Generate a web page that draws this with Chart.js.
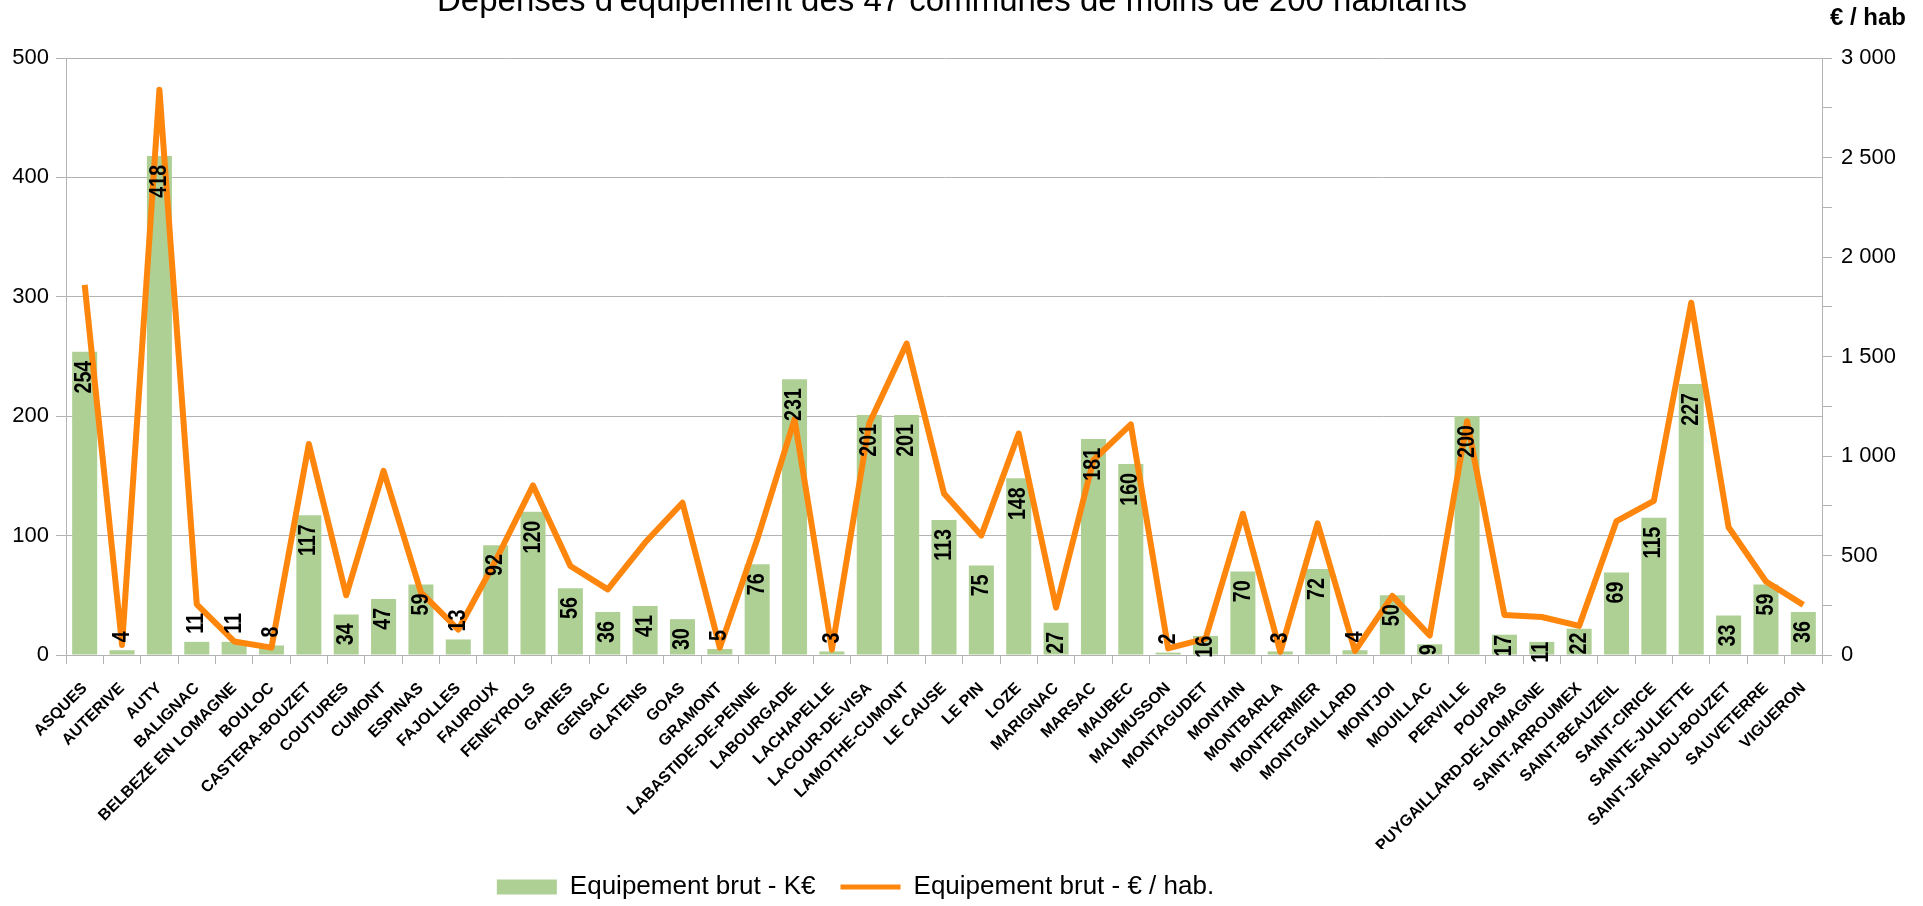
<!DOCTYPE html>
<html lang="fr">
<head>
<meta charset="utf-8">
<title>Dépenses d'équipement</title>
<script src="https://cdn.jsdelivr.net/npm/chart.js@4/dist/chart.umd.min.js"></script>
<style>
  html, body { margin: 0; padding: 0; background: #fff; }
  canvas { display: block; }
</style>
</head>
<body>
<canvas id="equipChart" width="1923" height="906"></canvas>
<script>
const communes = [
  "ASQUES", "AUTERIVE", "AUTY", "BALIGNAC", "BELBEZE EN LOMAGNE", "BOULOC",
  "CASTERA-BOUZET", "COUTURES", "CUMONT", "ESPINAS", "FAJOLLES", "FAUROUX",
  "FENEYROLS", "GARIES", "GENSAC", "GLATENS", "GOAS", "GRAMONT",
  "LABASTIDE-DE-PENNE", "LABOURGADE", "LACHAPELLE", "LACOUR-DE-VISA",
  "LAMOTHE-CUMONT", "LE CAUSE", "LE PIN", "LOZE", "MARIGNAC", "MARSAC",
  "MAUBEC", "MAUMUSSON", "MONTAGUDET", "MONTAIN", "MONTBARLA", "MONTFERMIER",
  "MONTGAILLARD", "MONTJOI", "MOUILLAC", "PERVILLE", "POUPAS",
  "PUYGAILLARD-DE-LOMAGNE", "SAINT-ARROUMEX", "SAINT-BEAUZEIL", "SAINT-CIRICE",
  "SAINTE-JULIETTE", "SAINT-JEAN-DU-BOUZET", "SAUVETERRE", "VIGUERON"
];

// Equipement brut en K€ (barres, axe gauche)
const equipementK = [
  254, 4, 418, 11, 11, 8, 117, 34, 47, 59, 13, 92, 120, 56, 36, 41, 30, 5,
  76, 231, 3, 201, 201, 113, 75, 148, 27, 181, 160, 2, 16, 70, 3, 72, 4, 50,
  9, 200, 17, 11, 22, 69, 115, 227, 33, 59, 36
];

// Equipement brut en € par habitant (courbe, axe droit)
const equipementHab = [
  1860, 50, 2840, 255, 68, 37, 1060, 300, 925, 315, 128, 475, 852, 447, 330,
  565, 765, 37, 580, 1185, 27, 1165, 1565, 812, 601, 1113, 238, 980, 1159, 33,
  82, 710, 16, 662, 20, 297, 98, 1175, 201, 191, 146, 673, 775, 1770, 642, 369,
  252
];

const leftAxis = { min: 0, max: 500, step: 100 };
const rightAxis = { min: 0, max: 3000, step: 250, labelEvery: 500 };

// petites valeurs dont l'étiquette est posée au-dessus de la barre
const labelsAbove = [
  "AUTERIVE", "BALIGNAC", "BELBEZE EN LOMAGNE", "BOULOC", "FAJOLLES",
  "GRAMONT", "LACHAPELLE", "MAUMUSSON", "MONTBARLA", "MONTGAILLARD"
];

const GREEN = "#afd095";
const ORANGE = "#ff860d";
const GRID = "#b3b3b3";
const NARROW = 0.82;

Chart.defaults.font.family = "'Liberation Sans', Arial, sans-serif";
Chart.defaults.color = "#000";

function thousands(v) {
  return String(v).replace(/\B(?=(\d{3})+(?!\d))/g, " ");
}

// valeurs K€ écrites verticalement sur les barres
const barValueLabels = {
  id: "barValueLabels",
  afterDatasetsDraw(chart) {
    const ctx = chart.ctx;
    const meta = chart.getDatasetMeta(0);
    ctx.save();
    ctx.font = "bold 24px 'Liberation Sans', Arial, sans-serif";
    ctx.fillStyle = "#000";
    ctx.textBaseline = "middle";
    meta.data.forEach((bar, i) => {
      const text = String(equipementK[i]);
      const len = ctx.measureText(text).width * NARROW;
      const h = bar.base - bar.y;
      ctx.save();
      if (labelsAbove.includes(communes[i])) {
        ctx.translate(bar.x, bar.y - 8);
        ctx.textAlign = "left";
      } else {
        ctx.translate(bar.x, bar.y + Math.min(9, Math.max(0, h - len)));
        ctx.textAlign = "right";
      }
      ctx.rotate(-Math.PI / 2);
      ctx.scale(NARROW, 1);
      ctx.fillText(text, 0, 0);
      ctx.restore();
    });
    ctx.restore();
  }
};

const headerText = {
  id: "headerText",
  afterLayout(chart) {
    // légende décalée vers la gauche
    chart.legend.left -= 106;
    chart.legend.right -= 106;
  },
  afterDraw(chart) {
    const ctx = chart.ctx;
    ctx.save();
    ctx.fillStyle = "#000";
    ctx.textBaseline = "alphabetic";
    ctx.textAlign = "center";
    ctx.font = "33px 'Liberation Sans', Arial, sans-serif";
    ctx.fillText("Dépenses d'équipement des 47 communes de moins de 200 habitants", 952, 11);
    ctx.textAlign = "left";
    ctx.font = "bold 24px 'Liberation Sans', Arial, sans-serif";
    ctx.fillText("€ / hab", 1830, 25);
    ctx.restore();
  }
};

const ctx = document.getElementById("equipChart").getContext("2d");

new Chart(ctx, {
  data: {
    labels: communes,
    datasets: [
      {
        type: "bar",
        label: "Equipement brut - K€",
        data: equipementK,
        backgroundColor: GREEN,
        borderWidth: 0,
        barPercentage: 0.67,
        categoryPercentage: 1,
        yAxisID: "y",
        pointStyle: "rect",
        order: 1
      },
      {
        type: "line",
        label: "Equipement brut - € / hab.",
        data: equipementHab,
        borderColor: ORANGE,
        backgroundColor: ORANGE,
        borderWidth: 6,
        borderJoinStyle: "round",
        pointRadius: 0,
        pointHoverRadius: 0,
        pointStyle: "line",
        tension: 0,
        yAxisID: "y1",
        order: 0
      }
    ]
  },
  options: {
    responsive: false,
    animation: false,
    events: [],
    layout: { padding: { top: 58, left: 0, right: 0, bottom: -4 } },
    plugins: {
      title: { display: false },
      tooltip: { enabled: false },
      legend: {
        position: "bottom",
        labels: {
          usePointStyle: true,
          pointStyleWidth: 60,
          boxHeight: 15,
          padding: 25,
          color: "#000",
          font: { size: 26 },
          sort: (a, b) => a.datasetIndex - b.datasetIndex,
          generateLabels(chart) {
            return Chart.defaults.plugins.legend.labels.generateLabels(chart).map(item => {
              if (item.pointStyle === "line") {
                item.lineWidth = 5;
                item.strokeStyle = ORANGE;
              }
              return item;
            });
          }
        }
      }
    },
    scales: {
      x: {
        offset: true,
        grid: { offset: true, drawOnChartArea: false, tickLength: 9, color: GRID },
        border: { color: GRID },
        ticks: {
          autoSkip: false,
          minRotation: 45,
          maxRotation: 45,
          padding: 15,
          color: "#000",
          font: { size: 16, weight: "bold" }
        },
        afterFit(scale) { scale.height = 194; }
      },
      y: {
        position: "left",
        min: leftAxis.min,
        max: leftAxis.max,
        ticks: { stepSize: leftAxis.step, padding: 7, color: "#000", font: { size: 22 } },
        grid: { color: GRID, tickLength: 10 },
        border: { color: GRID },
        afterFit(scale) { scale.width = 66; }
      },
      y1: {
        position: "right",
        min: rightAxis.min,
        max: rightAxis.max,
        ticks: {
          stepSize: rightAxis.step,
          autoSkip: false,
          padding: 9,
          color: "#000",
          font: { size: 22 },
          callback: v => (v % rightAxis.labelEvery === 0 ? thousands(v) : "")
        },
        grid: { drawOnChartArea: false, color: GRID, tickLength: 10 },
        border: { color: GRID },
        afterFit(scale) { scale.width = 101; }
      }
    }
  },
  plugins: [barValueLabels, headerText]
});
</script>
</body>
</html>
